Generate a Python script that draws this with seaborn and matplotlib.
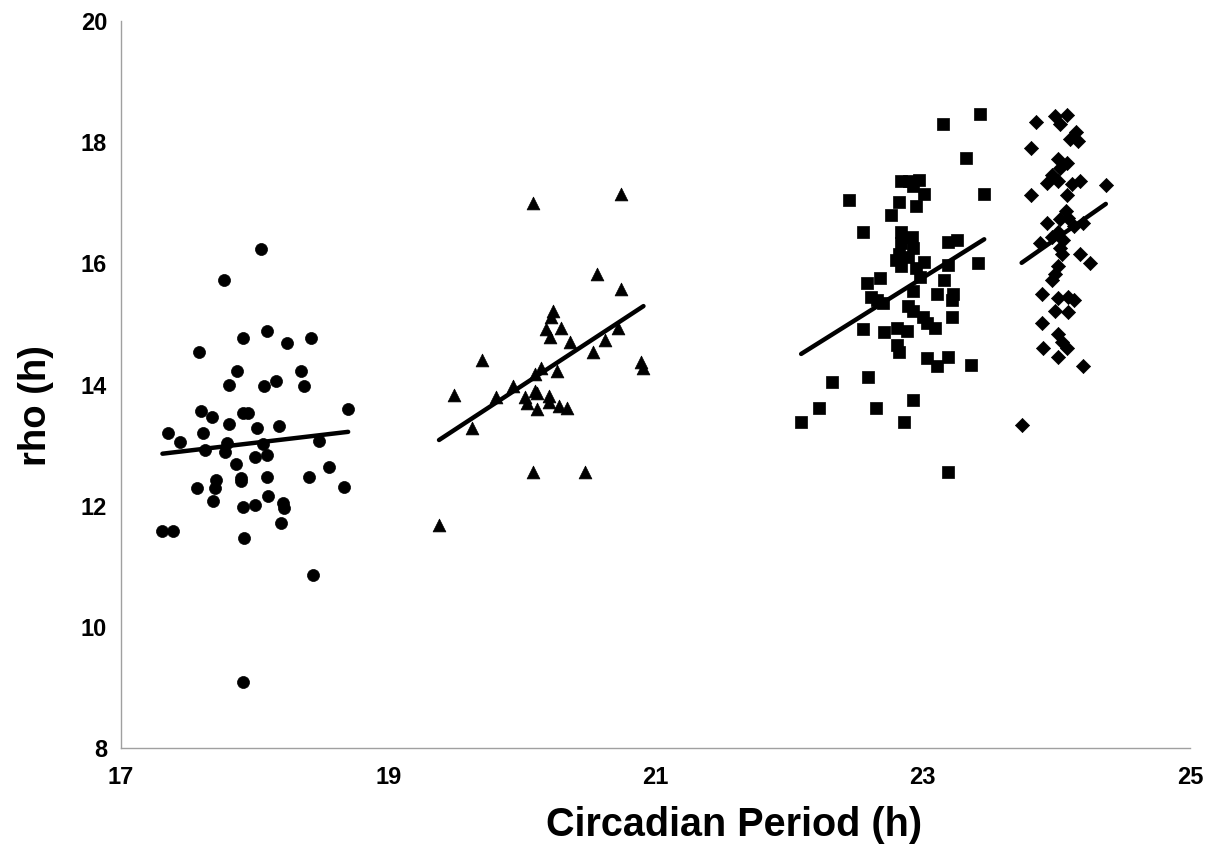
import numpy as np
import pandas as pd
import seaborn as sns
import matplotlib
matplotlib.use("Agg")
import matplotlib.pyplot as plt

# values (x = circadian period, y = rho)
circle_x = [18.05, 17.77, 18.09, 17.91, 18.24, 18.42, 17.58, 17.87, 18.35, 17.81,
            18.07, 18.16, 18.37, 18.70, 17.60, 17.68, 17.91, 17.95, 17.81, 18.02,
            18.18, 17.35, 17.61, 17.44, 18.48, 17.79, 18.06, 17.63, 17.78, 18.00,
            18.09, 17.86, 18.56, 18.41, 18.67, 17.71, 17.70, 17.57, 17.90, 17.90,
            18.09, 18.10, 17.69, 17.91, 18.00, 18.21, 18.22, 18.20, 17.31, 17.39,
            17.92, 18.44, 17.91]
circle_y = [16.24, 15.73, 14.89, 14.76, 14.68, 14.76, 14.53, 14.23, 14.22, 13.99,
            13.97, 14.05, 13.97, 13.59, 13.56, 13.46, 13.53, 13.53, 13.34, 13.28,
            13.31, 13.20, 13.20, 13.05, 13.06, 13.03, 13.01, 12.92, 12.88, 12.80,
            12.83, 12.69, 12.64, 12.47, 12.31, 12.42, 12.29, 12.29, 12.45, 12.40,
            12.47, 12.16, 12.08, 11.98, 12.01, 12.04, 11.96, 11.71, 11.58, 11.58,
            11.47, 10.86, 9.09]

triangle_x = [20.08, 20.74, 20.56, 20.74, 20.23, 20.22, 20.18, 20.29, 20.21, 20.36,
              20.72, 20.62, 20.53, 20.89, 20.91, 19.70, 20.14, 20.10, 20.26, 19.93,
              19.81, 19.49, 20.10, 20.11, 20.02, 20.04, 20.11, 20.20, 20.20, 20.28,
              20.34, 19.63, 20.08, 20.47, 19.38]
triangle_y = [16.99, 17.15, 15.82, 15.57, 15.22, 15.11, 14.91, 14.94, 14.78, 14.70,
              14.93, 14.74, 14.53, 14.37, 14.28, 14.41, 14.27, 14.18, 14.23, 13.97,
              13.79, 13.82, 13.89, 13.86, 13.79, 13.69, 13.59, 13.81, 13.71, 13.64,
              13.61, 13.28, 12.55, 12.55, 11.68]

square_x = [23.43, 23.15, 23.32, 23.46, 22.45, 22.84, 22.90, 22.97, 22.93, 23.01,
            22.82, 22.95, 22.76, 22.55, 22.84, 22.84, 22.92, 22.93, 22.82, 22.80,
            22.89, 22.84, 23.19, 23.26, 23.01, 23.19, 23.41, 22.95, 23.16, 22.58,
            22.68, 22.98, 22.93, 23.11, 23.23, 23.22, 22.61, 22.66, 22.70, 22.89,
            22.93, 23.00, 23.22, 22.55, 22.71, 22.81, 22.88, 23.03, 23.09, 22.81,
            22.82, 23.03, 23.11, 23.19, 23.36, 22.32, 22.59, 22.22, 22.09, 22.65,
            22.93, 22.86, 23.19]
square_y = [18.47, 18.30, 17.74, 17.15, 17.05, 17.36, 17.36, 17.38, 17.28, 17.15,
            17.02, 16.95, 16.80, 16.52, 16.52, 16.33, 16.43, 16.26, 16.16, 16.05,
            16.10, 15.96, 16.36, 16.39, 16.03, 15.98, 16.00, 15.93, 15.73, 15.68,
            15.75, 15.77, 15.54, 15.50, 15.50, 15.39, 15.44, 15.39, 15.35, 15.30,
            15.22, 15.11, 15.11, 14.91, 14.86, 14.94, 14.89, 15.01, 14.93, 14.65,
            14.53, 14.43, 14.30, 14.46, 14.33, 14.04, 14.12, 13.61, 13.38, 13.62,
            13.74, 13.38, 12.55]

diamond_x = [23.85, 23.99, 24.08, 24.03, 23.81, 24.15, 24.10, 24.16, 24.01, 24.08,
             24.03, 23.97, 24.01, 23.93, 24.18, 24.12, 24.37, 23.81, 24.08, 24.07,
             24.09, 24.03, 23.93, 24.13, 24.20, 24.01, 23.97, 24.05, 23.88, 24.03,
             24.04, 24.18, 24.25, 24.01, 23.99, 23.97, 23.89, 24.01, 24.09, 24.13,
             23.99, 24.09, 23.89, 24.01, 24.04, 23.90, 24.08, 24.01, 24.20, 23.74]
diamond_y = [18.34, 18.43, 18.45, 18.30, 17.91, 18.16, 18.06, 18.02, 17.73, 17.66,
             17.58, 17.45, 17.36, 17.33, 17.36, 17.31, 17.30, 17.13, 17.12, 16.87,
             16.75, 16.74, 16.66, 16.62, 16.67, 16.51, 16.43, 16.38, 16.33, 16.26,
             16.16, 16.16, 16.00, 15.96, 15.83, 15.72, 15.50, 15.42, 15.44, 15.39,
             15.22, 15.19, 15.01, 14.84, 14.70, 14.61, 14.60, 14.45, 14.30, 13.33]

x_ticks = [17, 19, 21, 23, 25]
y_ticks = [8, 10, 12, 14, 16, 18, 20]

groups = ["circle", "triangle", "square", "diamond"]
markers = {"circle": "o", "triangle": "^", "square": "s", "diamond": "D"}
sizes = {"circle": 75, "triangle": 85, "square": 75, "diamond": 52}

df = pd.concat([
    pd.DataFrame({"period": circle_x, "rho": circle_y, "group": "circle"}),
    pd.DataFrame({"period": triangle_x, "rho": triangle_y, "group": "triangle"}),
    pd.DataFrame({"period": square_x, "rho": square_y, "group": "square"}),
    pd.DataFrame({"period": diamond_x, "rho": diamond_y, "group": "diamond"}),
], ignore_index=True)

sns.set_style("white")
plt.rcParams["font.family"] = ["Liberation Sans", "DejaVu Sans"]
plt.rcParams["text.color"] = "black"
plt.rcParams["axes.labelcolor"] = "black"
plt.rcParams["xtick.color"] = "black"
plt.rcParams["ytick.color"] = "black"

fig = plt.figure(figsize=(12.13, 8.51), dpi=100)
ax = fig.add_axes([121 / 1213, 1 - 748 / 851, (1190 - 121) / 1213, (748 - 21) / 851])

for g in groups:
    sub = df[df.group == g]
    sns.scatterplot(data=sub, x="period", y="rho", marker=markers[g], s=sizes[g],
                    color="black", edgecolor="black", linewidth=0.5, ax=ax, legend=False)
    sns.regplot(data=sub, x="period", y="rho", scatter=False, ci=None, truncate=True,
                color="black", line_kws={"linewidth": 3.2, "solid_capstyle": "round"}, ax=ax)

ax.set_xlim(17, 25)
ax.set_ylim(8, 20)
ax.set_xticks(x_ticks)
ax.set_yticks(y_ticks)
sns.despine(ax=ax)
for side in ["left", "bottom"]:
    ax.spines[side].set_color("#a0a0a0")
    ax.spines[side].set_linewidth(1.0)
ax.tick_params(axis="both", direction="out", length=3, width=1, color="#a0a0a0",
               labelsize=17, labelcolor="black")
ax.tick_params(axis="y", pad=7)
ax.tick_params(axis="x", pad=10)
for lab in ax.get_xticklabels() + ax.get_yticklabels():
    lab.set_fontweight("bold")

ax.set_xlabel("Circadian Period (h)", fontsize=28.5, fontweight="bold", color="black")
ax.xaxis.set_label_coords((734 - 121) / 1069, (748 - 806) / 727)
ax.set_ylabel("rho (h)", fontsize=27.5, fontweight="bold", color="black")
ax.yaxis.set_label_coords((54 - 121) / 1069, (748 - 406) / 727)

fig.savefig("out.png", dpi=100)
